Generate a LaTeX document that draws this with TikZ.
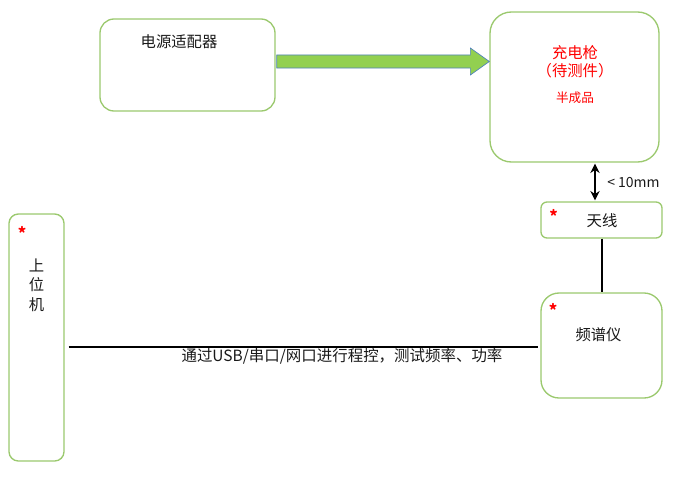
\documentclass[tikz,border=0pt]{standalone}
\usepackage{fontspec}
\setmainfont{Noto Sans CJK SC}
\usetikzlibrary{arrows.meta,calc,positioning}
\definecolor{boxgreen}{RGB}{155,201,110}
\definecolor{powergreen}{RGB}{146,208,80}
\definecolor{poweredge}{RGB}{79,129,189}
\tikzset{
  unit/.style={draw=boxgreen, line width=1pt, fill=white, inner sep=0pt},
  wire/.style={line width=1.5pt, black},
  txt/.style={font=\fontsize{11.5}{13}\selectfont, text=black!90, inner sep=0pt},
  star/.style={font=\bfseries\fontsize{12}{12}\selectfont, text=red, inner sep=0pt}
}
\begin{document}
\begin{tikzpicture}[x=0.75pt, y=-0.75pt]
        % Page frame
        \useasboundingbox (0,0) rectangle (673,492);
        % Boxes
        \node[unit, rounded corners=10.5pt, minimum width=131.25pt, minimum height=69pt] (adapter) at (187.5,65) {};
        \node[unit, rounded corners=16pt, minimum width=126.75pt, minimum height=112.5pt] (gun) at (574.5,87) {};
        \node[unit, rounded corners=4.5pt, minimum width=90.75pt, minimum height=27pt] (antenna) at (601.5,220) {};
        \node[unit, rounded corners=13.5pt, minimum width=90.75pt, minimum height=78.75pt] (analyzer) at (601.5,345.5) {};
        \node[unit, rounded corners=7pt, minimum width=41.25pt, minimum height=185.25pt] (host) at (36.5,337.5) {};
        % Box texts
        \node[txt] (adaptertxt) at (179,42) {电源适配器};
        \node[txt, text=red] (guntxt) at (575,53) {充电枪};
        \node[txt, text=red] (guntxt2) at (575,71) {（待测件）};
        \node[txt, text=red, font=\fontsize{9.5}{11}\selectfont] (guntxt3) at (575,97.5) {半成品};
        \node[txt] (antennatxt) at (602,220.5) {天线};
        \node[txt] (analyzertxt) at (598.5,334.5) {频谱仪};
        \foreach \c [count=\i] in {上,位,机} {
          \node[txt] (host\i) at (36.5,245+20*\i) {\c};
        }
        % Red marks
        \node[star] (antennastar) at (553.5,216) {*};
        \node[star] (analyzerstar) at (553,310) {*};
        \node[star] (hoststar) at (22,233) {*};
        % Power arrow
        \coordinate (tipy) at (0,61.5);
        \draw[poweredge, fill=powergreen, line width=0.5pt]
          ($(adapter.east|-tipy)+(1,-6.5)$) -- ($(gun.west|-tipy)+(-19,-6.5)$)
          -- ($(gun.west|-tipy)+(-19,-13.5)$) -- (gun.west|-tipy)
          -- ($(gun.west|-tipy)+(-19,13.5)$) -- ($(gun.west|-tipy)+(-19,6.5)$)
          -- ($(adapter.east|-tipy)+(1,6.5)$) -- cycle;
        % Gap arrow
        \draw[wire, line width=2pt, {Stealth[length=7pt,width=7pt]}-{Stealth[length=7pt,width=7pt]}]
          ($(gun.south)+(20.5,1)$) -- ($(antenna.north)+(-6.5,-1)$);
        \node[txt, font=\fontsize{10.5}{12}\selectfont, anchor=west] (gaptxt) at (607,183) {< 10mm};
        % Wires
        \draw[wire] (antenna.south) -- (analyzer.north);
        \coordinate (busy) at (0,347);
        \draw[wire] ($(host.east|-busy)+(4,0)$) -- ($(analyzer.west|-busy)+(-2,0)$);
        \node[txt, font=\fontsize{11.6}{13}\selectfont] (bustxt) at (342,356) {通过USB/串口/网口进行程控，测试频率、功率};
      \end{tikzpicture}
\end{document}
